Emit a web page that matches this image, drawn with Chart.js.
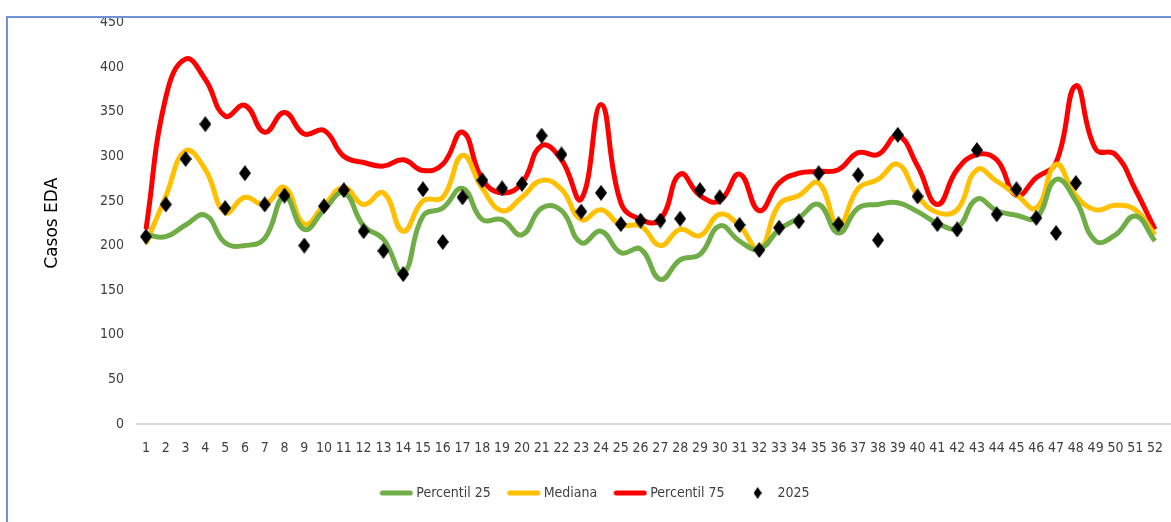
<!DOCTYPE html>
<html>
<head>
<meta charset="utf-8">
<script src="https://cdn.jsdelivr.net/npm/chart.js@4.4.1/dist/chart.umd.min.js"></script>
<style>
  html, body { margin: 0; padding: 0; background: #fff; overflow: hidden; }
  #wrap { position: relative; width: 1171px; height: 522px; }
  #frame { position: absolute; left: 6px; top: 16px; width: 1200px; height: 600px;
           border-left: 2px solid #7191d6; border-top: 2px solid #7191d6; pointer-events: none; }
</style>
</head>
<body>
<div id="wrap">
  <canvas id="chart" width="1171" height="522"></canvas>
  <div id="frame"></div>
</div>
<script>
// semanas epidemiologicas
const weeks = ['1','2','3','4','5','6','7','8','9','10','11','12','13','14','15','16','17','18','19','20',
  '21','22','23','24','25','26','27','28','29','30','31','32','33','34','35','36','37','38','39','40',
  '41','42','43','44','45','46','47','48','49','50','51','52'];

const p25 = [212, 210, 223, 234, 203, 200, 208, 255, 218, 240, 259, 222, 207, 169, 233, 242, 264, 229, 229, 212,
  242, 239, 203, 216, 192, 196, 162, 184, 190, 222, 205, 196, 218, 231, 246, 214, 242, 246, 248, 238,
  225, 220, 252, 239, 234, 231, 274, 250, 205, 212, 233, 205];

const mediana = [202, 255, 306, 285, 237, 254, 246, 265, 224, 245, 265, 246, 259, 216, 250, 254, 301, 264, 239, 254,
  273, 263, 229, 240, 223, 222, 200, 218, 211, 235, 222, 196, 246, 256, 270, 222, 264, 274, 291, 256,
  237, 240, 285, 272, 257, 242, 291, 256, 240, 245, 240, 212];

const p75 = [218, 366, 409, 386, 345, 357, 327, 349, 325, 329, 300, 293, 289, 296, 284, 291, 327, 274, 259, 270,
  312, 296, 252, 358, 248, 229, 229, 280, 256, 250, 280, 239, 270, 281, 283, 285, 304, 302, 323, 289,
  246, 285, 302, 296, 256, 276, 293, 379, 308, 302, 263, 218];

const casos2025 = [210, 246, 297, 336, 242, 281, 246, 256, 200, 244, 262, 216, 194, 168, 263, 204, 254, 273, 264, 269,
  323, 302, 238, 259, 224, 228, 228, 230, 262, 254, 223, 195, 220, 227, 281, 224, 279, 206, 324, 255,
  224, 218, 307, 235, 263, 231, 214, 270];

const yTicks = [0, 50, 100, 150, 200, 250, 300, 350, 400, 450];

const tickFont = "'Liberation Sans Narrow', 'DejaVu Sans Condensed', 'Open Sans', sans-serif";

function lineSwatch(color) {
  const c = document.createElement('canvas');
  c.width = 34; c.height = 6;
  const g = c.getContext('2d');
  g.strokeStyle = color;
  g.lineWidth = 5;
  g.lineCap = 'round';
  g.beginPath();
  g.moveTo(3, 3);
  g.lineTo(31, 3);
  g.stroke();
  return c;
}

function diamond(w, h) {
  const c = document.createElement('canvas');
  c.width = w; c.height = h;
  const g = c.getContext('2d');
  g.fillStyle = '#000';
  g.beginPath();
  g.moveTo(w / 2, 0);
  g.lineTo(w, h / 2);
  g.lineTo(w / 2, h);
  g.lineTo(0, h / 2);
  g.closePath();
  g.fill();
  return c;
}

const bigDiamond = diamond(12, 16);
const legendIcons = [lineSwatch('#70ad47'), lineSwatch('#ffc000'), lineSwatch('#ff0000'), diamond(8, 12)];

// linea base gris que sobresale del area
const baseLine = {
  id: 'baseLine',
  beforeDatasetsDraw(chart) {
    const y = chart.scales.y.getPixelForValue(0);
    const ctx = chart.ctx;
    ctx.save();
    ctx.strokeStyle = '#d9d9d9';
    ctx.lineWidth = 2;
    ctx.beginPath();
    ctx.moveTo(chart.chartArea.left - 10, y);
    ctx.lineTo(chart.width, y);
    ctx.stroke();
    ctx.restore();
  }
};

// la leyenda del original esta un poco corrida a la derecha
const legendShift = {
  id: 'legendShift',
  afterLayout(chart) {
    chart.legend.left += 15;
    chart.legend.right += 15;
  }
};

const lineDs = (label, data, color, order) => ({
  label: label,
  data: data,
  borderColor: color,
  backgroundColor: color,
  borderWidth: 5,
  pointRadius: 0,
  tension: 0.45,
  fill: false,
  order: order
});

new Chart(document.getElementById('chart'), {
  type: 'line',
  data: {
    labels: weeks,
    datasets: [
      lineDs('Percentil 25', p25, '#70ad47', 1),
      lineDs('Mediana', mediana, '#ffc000', 2),
      lineDs('Percentil 75', p75, '#ff0000', 3),
      {
        label: '2025',
        data: casos2025,
        showLine: false,
        pointStyle: bigDiamond,
        pointRadius: 6,
        borderColor: '#000',
        backgroundColor: '#000',
        order: 0
      }
    ]
  },
  options: {
    responsive: false,
    animation: false,
    layout: { padding: { top: 12, right: 8, left: 0, bottom: 12 } },
    plugins: {
      tooltip: { enabled: false },
      legend: {
        position: 'bottom',
        labels: {
          usePointStyle: true,
          pointStyleWidth: 26,
          boxHeight: 14,
          padding: 20,
          color: '#404040',
          font: { family: tickFont, size: 14 },
          sort: (a, b) => a.datasetIndex - b.datasetIndex,
          generateLabels(chart) {
            const items = Chart.defaults.plugins.legend.labels.generateLabels(chart);
            items.forEach(it => { it.pointStyle = legendIcons[it.datasetIndex]; });
            return items;
          }
        }
      }
    },
    scales: {
      x: {
        grid: { display: false },
        border: { display: false },
        ticks: {
          autoSkip: false, maxRotation: 0, padding: 8,
          color: '#404040',
          font: { family: tickFont, size: 14 }
        },
        afterFit(s) { s.height = 42; }
      },
      y: {
        min: 0, max: 450,
        afterBuildTicks(s) { s.ticks = yTicks.map(v => ({ value: v })); },
        grid: { display: false },
        border: { display: false },
        ticks: {
          padding: 14,
          color: '#404040',
          font: { family: tickFont, size: 14 }
        },
        title: {
          display: true,
          text: 'Casos EDA',
          color: '#000',
          padding: { top: 42, bottom: 0 },
          font: { family: "'DejaVu Sans', sans-serif", size: 17 }
        },
        afterFit(s) { s.width = 146; }
      }
    }
  },
  plugins: [baseLine, legendShift]
});
</script>
</body>
</html>
